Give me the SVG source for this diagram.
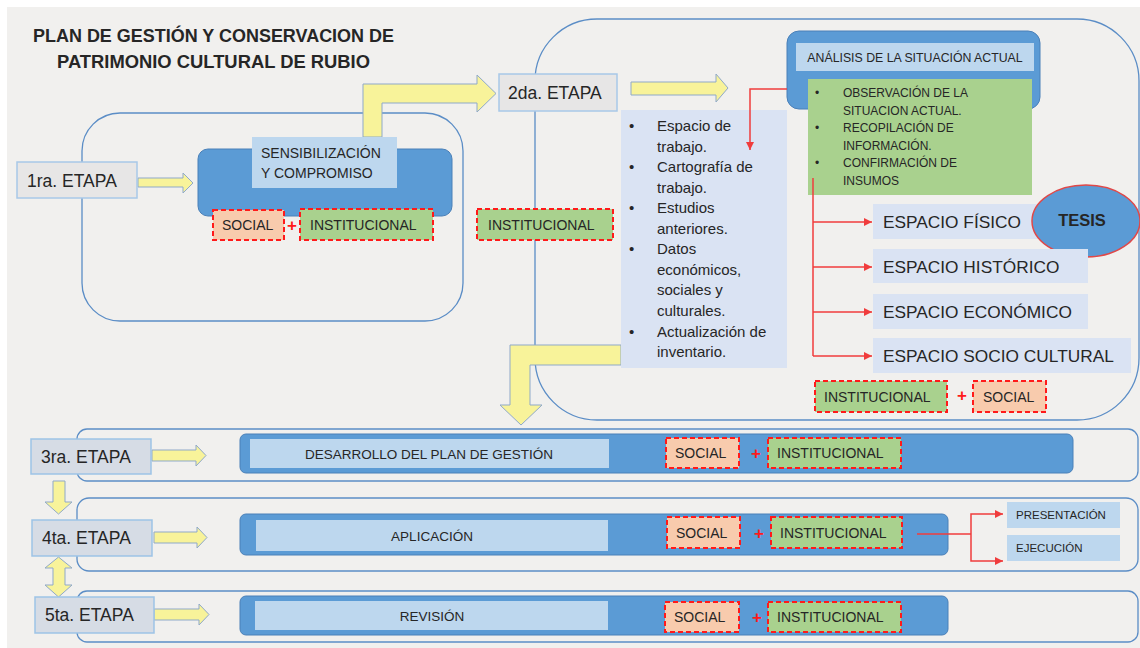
<svg xmlns="http://www.w3.org/2000/svg" width="1140" height="648" viewBox="0 0 1140 648">
<style>
text{font-family:"Liberation Sans",Arial,sans-serif;fill:#262626}
.cont{fill:none;stroke:#5b8dc6;stroke-width:1.3}
.et1{fill:#e7e6e6;stroke:#a8c8e8;stroke-width:1.5}
.et2{fill:#d6dce5;stroke:#9dc3e6;stroke-width:1.5}
.blue{fill:#5b9bd5;stroke:#4a80b8;stroke-width:1}
.lb{fill:#bdd7ee}
.pale{fill:#dae3f3}
.grn{fill:#a9d18e}
.soc{fill:#f8cbad;stroke:#ff1a1a;stroke-width:2;stroke-dasharray:5 3}
.inst{fill:#a9d18e;stroke:#ff1a1a;stroke-width:2;stroke-dasharray:5 3}
.yel{fill:#f8f39a;stroke:#8fa9c9;stroke-width:1}
.red{fill:none;stroke:#f03c3c;stroke-width:1.5}
.arr{marker-end:url(#rh)}
.plus{fill:#ff1a1a;font-weight:bold;font-size:17px;text-anchor:middle}
.et{font-size:17.5px}
.tag{font-size:14px}
.bul{font-size:15px}
.gb{font-size:12px}
.esp{font-size:17.3px}
.row{font-size:13.5px;text-anchor:middle}
.sm{font-size:11.5px}
</style>
<defs>
<marker id="rh" markerUnits="userSpaceOnUse" markerWidth="8" markerHeight="8" refX="8" refY="4" orient="auto">
<path d="M0,0 L8,4 L0,8 z" fill="#f03c3c"/>
</marker>
</defs>
<rect x="0" y="0" width="1140" height="648" fill="#ffffff"/>
<rect x="7" y="7" width="1133" height="641" fill="#f1f0ee"/>

<g id="title">
<text x="33" y="42" font-size="18" font-weight="bold" textLength="361" lengthAdjust="spacingAndGlyphs">PLAN DE GESTIÓN Y CONSERVACION DE</text>
<text x="57" y="68" font-size="18" font-weight="bold" textLength="313" lengthAdjust="spacingAndGlyphs">PATRIMONIO CULTURAL DE RUBIO</text>
</g>

<g id="containers">
<rect id="stage1-frame" class="cont" x="82" y="113" width="381" height="208" rx="38"/>
<rect id="stage2-frame" class="cont" x="535" y="19" width="604" height="401" rx="62"/>
<rect id="stage3-frame" class="cont" x="77" y="429" width="1061" height="52" rx="10"/>
<rect id="stage4-frame" class="cont" x="77" y="498" width="1061" height="73" rx="12"/>
<rect id="stage5-frame" class="cont" x="77" y="591" width="1061" height="51" rx="10"/>
</g>

<g id="connectors-flow">
<polygon class="yel" points="138,178 183,178 183,173 193,183 183,193 183,187 138,187"/>
<polygon class="yel" points="363,137 363,84 477,84 477,75 496,93.5 477,112 477,103 382,103 382,137"/>
<polygon class="yel" points="631,82 716,82 716,74 728,88 716,102 716,95 631,95"/>
<polygon class="yel" points="621,345 510,345 510,405 500,405 521,425 542,405 530,405 530,365 621,365"/>
<polygon class="yel" points="152,450 196,450 196,445 206,455.5 196,466 196,461 152,461"/>
<polygon class="yel" points="154,532 197,532 197,527 207,537.5 197,548 197,543 154,543"/>
<polygon class="yel" points="154,609 199,609 199,604 209,614.5 199,625 199,620 154,620"/>
<polygon class="yel" points="53,481 65,481 65,502 72,502 58.5,514 45,502 53,502"/>
<polygon class="yel" points="58.5,557 72,568 65,568 65,585 72,585 58.5,597 45,585 53,585 53,568 45,568"/>
</g>

<g id="etapa1">
<rect class="et1" x="17" y="162" width="120" height="36"/>
<text class="et" x="27" y="187">1ra. ETAPA</text>
</g>
<g id="sensibilizacion">
<rect class="blue" x="198" y="149" width="254" height="67" rx="10"/>
<rect class="lb" x="252" y="137" width="145" height="51"/>
<text class="tag" x="261" y="158">SENSIBILIZACIÓN</text>
<text class="tag" x="261" y="178">Y COMPROMISO</text>
</g>
<g id="s1-social">
<rect class="soc" x="213" y="210" width="71" height="30"/>
<text class="tag" x="222" y="230">SOCIAL</text>
</g>
<text class="plus" x="292" y="231">+</text>
<g id="s1-institucional">
<rect class="inst" x="300" y="209" width="133" height="31"/>
<text class="tag" x="310" y="230">INSTITUCIONAL</text>
</g>

<g id="etapa2">
<rect class="et1" x="499" y="74" width="118" height="37"/>
<text class="et" x="508" y="99">2da. ETAPA</text>
</g>
<g id="s2-institucional">
<rect class="inst" x="477" y="209" width="136" height="31"/>
<text class="tag" x="488" y="230">INSTITUCIONAL</text>
</g>
<g id="lista-trabajo">
<rect class="pale" x="621" y="110" width="166" height="258"/>
<text class="bul" x="629" y="131">•</text>
<text class="bul" x="657" y="131">Espacio de</text>
<text class="bul" x="657" y="152">trabajo.</text>
<text class="bul" x="629" y="172">•</text>
<text class="bul" x="657" y="172">Cartografía de</text>
<text class="bul" x="657" y="193">trabajo.</text>
<text class="bul" x="629" y="213">•</text>
<text class="bul" x="657" y="213">Estudios</text>
<text class="bul" x="657" y="234">anteriores.</text>
<text class="bul" x="629" y="254">•</text>
<text class="bul" x="657" y="254">Datos</text>
<text class="bul" x="657" y="275">económicos,</text>
<text class="bul" x="657" y="295">sociales y</text>
<text class="bul" x="657" y="316">culturales.</text>
<text class="bul" x="629" y="337">•</text>
<text class="bul" x="657" y="337">Actualización de</text>
<text class="bul" x="657" y="357">inventario.</text>
</g>
<g id="analisis">
<rect class="blue" x="787" y="31" width="253" height="78" rx="12"/>
<rect class="lb" x="796" y="43" width="238" height="28"/>
<text x="915" y="62" font-size="12.3" text-anchor="middle">ANÁLISIS DE LA SITUACIÓN ACTUAL</text>
<rect class="grn" x="808" y="79" width="224" height="116"/>
<text class="gb" x="815" y="97">•</text>
<text class="gb" x="843" y="97">OBSERVACIÓN DE LA</text>
<text class="gb" x="843" y="114.6">SITUACION ACTUAL.</text>
<text class="gb" x="815" y="132.2">•</text>
<text class="gb" x="843" y="132.2">RECOPILACIÓN DE</text>
<text class="gb" x="843" y="149.8">INFORMACIÓN.</text>
<text class="gb" x="815" y="167.4">•</text>
<text class="gb" x="843" y="167.4">CONFIRMACIÓN DE</text>
<text class="gb" x="843" y="185">INSUMOS</text>
</g>
<g id="espacio-fisico">
<rect class="pale" x="873" y="204" width="180" height="35"/>
<text class="esp" x="883" y="228">ESPACIO FÍSICO</text>
</g>
<g id="tesis">
<ellipse cx="1086" cy="221" rx="54" ry="36" fill="#5b9bd5" stroke="#e04848" stroke-width="1.5"/>
<text x="1082" y="226" font-size="16.5" font-weight="bold" text-anchor="middle">TESIS</text>
</g>
<g id="espacio-historico">
<rect class="pale" x="873" y="249" width="215" height="34"/>
<text class="esp" x="883" y="273">ESPACIO HISTÓRICO</text>
</g>
<g id="espacio-economico">
<rect class="pale" x="873" y="294" width="215" height="35"/>
<text class="esp" x="883" y="318">ESPACIO ECONÓMICO</text>
</g>
<g id="espacio-socio-cultural">
<rect class="pale" x="873" y="338" width="258" height="35"/>
<text class="esp" x="883" y="362">ESPACIO SOCIO CULTURAL</text>
</g>
<g id="s2-institucional-b">
<rect class="inst" x="815" y="381" width="132" height="31"/>
<text class="tag" x="824" y="401.5">INSTITUCIONAL</text>
</g>
<text class="plus" x="962" y="401">+</text>
<g id="s2-social-b">
<rect class="soc" x="973" y="381" width="73" height="31"/>
<text class="tag" x="983" y="401.5">SOCIAL</text>
</g>

<g id="etapa3">
<rect class="et2" x="31" y="439" width="120" height="35"/>
<text class="et" x="41" y="463">3ra. ETAPA</text>
</g>
<g id="desarrollo">
<rect class="blue" x="240" y="434" width="833" height="39" rx="6"/>
<rect class="lb" x="250" y="439" width="359" height="29"/>
<text class="row" x="429" y="458.5">DESARROLLO DEL PLAN DE GESTIÓN</text>
</g>
<g id="s3-social">
<rect class="soc" x="666" y="438" width="73" height="30"/>
<text class="tag" x="675" y="458">SOCIAL</text>
</g>
<text class="plus" x="756" y="459">+</text>
<g id="s3-institucional">
<rect class="inst" x="768" y="438" width="133" height="30"/>
<text class="tag" x="777" y="458">INSTITUCIONAL</text>
</g>

<g id="etapa4">
<rect class="et2" x="32" y="520" width="120" height="36"/>
<text class="et" x="42" y="544">4ta. ETAPA</text>
</g>
<g id="aplicacion">
<rect class="blue" x="240" y="514" width="708" height="41" rx="6"/>
<rect class="lb" x="256" y="520" width="352" height="31"/>
<text class="row" x="432" y="540.5">APLICACIÓN</text>
</g>
<g id="s4-social">
<rect class="soc" x="667" y="517" width="73" height="31"/>
<text class="tag" x="676" y="537.5">SOCIAL</text>
</g>
<text class="plus" x="759" y="539">+</text>
<g id="s4-institucional">
<rect class="inst" x="771" y="517" width="131" height="31"/>
<text class="tag" x="780" y="537.5">INSTITUCIONAL</text>
</g>
<g id="presentacion">
<rect class="lb" x="1007" y="502" width="113" height="26"/>
<text class="sm" x="1016" y="519">PRESENTACIÓN</text>
</g>
<g id="ejecucion">
<rect class="lb" x="1007" y="535" width="113" height="26"/>
<text class="sm" x="1016" y="552">EJECUCIÓN</text>
</g>

<g id="etapa5">
<rect class="et2" x="35" y="597" width="119" height="36"/>
<text class="et" x="45" y="621">5ta. ETAPA</text>
</g>
<g id="revision">
<rect class="blue" x="240" y="596" width="708" height="39" rx="6"/>
<rect class="lb" x="255" y="601" width="353" height="29"/>
<text class="row" x="432" y="620.5">REVISIÓN</text>
</g>
<g id="s5-social">
<rect class="soc" x="665" y="602" width="74" height="30"/>
<text class="tag" x="674" y="622">SOCIAL</text>
</g>
<text class="plus" x="757" y="623">+</text>
<g id="s5-institucional">
<rect class="inst" x="768" y="602" width="133" height="30"/>
<text class="tag" x="777" y="622">INSTITUCIONAL</text>
</g>

<g id="connectors-links">
<path class="red arr" d="M787,89 H750 V150"/>
<path class="red" d="M813,178 V356"/>
<path class="red arr" d="M813,222 H872"/>
<path class="red arr" d="M813,267 H872"/>
<path class="red arr" d="M813,312 H872"/>
<path class="red arr" d="M813,356 H872"/>
<path class="red" d="M917,534 H971"/>
<path class="red arr" d="M971,534 V514 H1003"/>
<path class="red arr" d="M971,534 V561 H1003"/>
</g>
</svg>
